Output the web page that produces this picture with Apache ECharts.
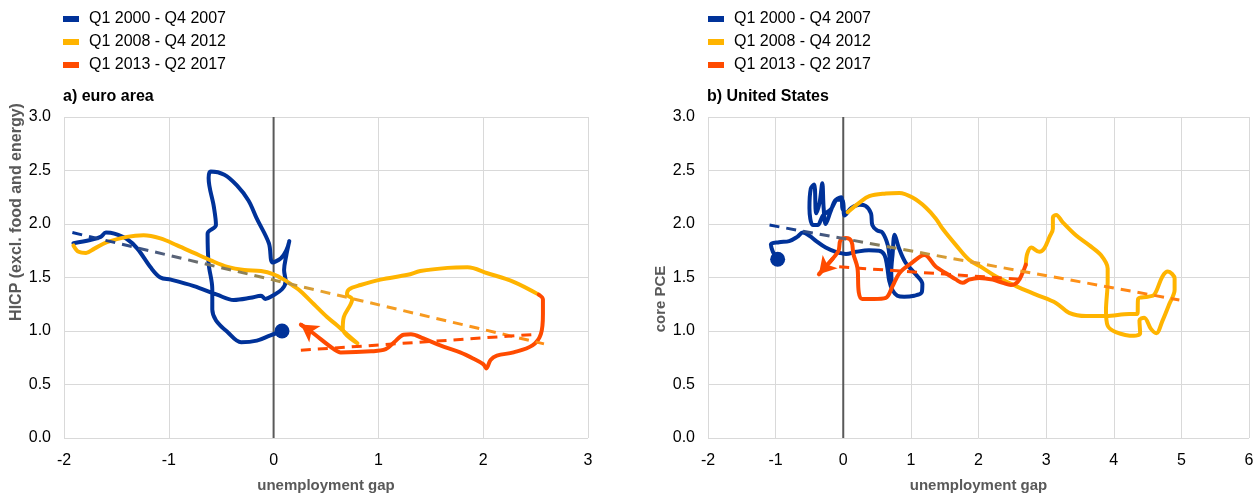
<!DOCTYPE html>
<html>
<head>
<meta charset="utf-8">
<script src="https://cdn.jsdelivr.net/npm/echarts@6/dist/echarts.min.js"></script>
<style>
html, body { margin: 0; padding: 0; background: #fff; }
#chart { width: 1259px; height: 498px; }
</style>
</head>
<body>
<div id="chart"></div>
<script>
// periods shown in both legends
var periods = ['Q1 2000 - Q4 2007', 'Q1 2008 - Q4 2012', 'Q1 2013 - Q2 2017'];

// a) euro area: [unemployment gap, HICP excl. food and energy]
var eaPre = [
    [0.08, 1.00], [-0.03, 0.96], [-0.16, 0.91], [-0.31, 0.895], [-0.44, 0.99], [-0.55, 1.10],
    [-0.585, 1.20], [-0.585, 1.39], [-0.62, 1.63], [-0.63, 1.91], [-0.55, 1.99], [-0.57, 2.16],
    [-0.62, 2.43], [-0.60, 2.49], [-0.47, 2.46], [-0.35, 2.36], [-0.24, 2.22], [-0.16, 2.05],
    [-0.045, 1.82], [-0.01, 1.64], [0.07, 1.68], [0.12, 1.75], [0.15, 1.84], [0.12, 1.70],
    [0.10, 1.57], [0.115, 1.465], [0.08, 1.39], [-0.01, 1.33], [-0.08, 1.30], [-0.12, 1.33],
    [-0.22, 1.31], [-0.38, 1.29], [-0.54, 1.34], [-0.76, 1.42], [-0.98, 1.48], [-1.08, 1.50],
    [-1.17, 1.59], [-1.30, 1.77], [-1.40, 1.86], [-1.52, 1.91], [-1.60, 1.92], [-1.65, 1.88],
    [-1.75, 1.85], [-1.91, 1.82]
];
var eaCrisis = [
    [-1.91, 1.80], [-1.86, 1.74], [-1.79, 1.73], [-1.71, 1.77], [-1.59, 1.83], [-1.40, 1.88],
    [-1.24, 1.895], [-1.08, 1.865], [-0.92, 1.80], [-0.76, 1.73], [-0.60, 1.66], [-0.44, 1.60],
    [-0.28, 1.57], [-0.12, 1.56], [0.0, 1.53], [0.10, 1.48], [0.19, 1.42], [0.26, 1.37],
    [0.385, 1.25], [0.51, 1.13], [0.61, 1.05], [0.70, 0.97], [0.80, 0.885], [0.66, 1.02],
    [0.67, 1.13], [0.735, 1.25], [0.75, 1.30], [0.70, 1.34], [0.72, 1.39], [0.83, 1.43],
    [1.02, 1.48], [1.28, 1.525], [1.40, 1.56], [1.66, 1.59], [1.85, 1.595], [2.04, 1.54],
    [2.29, 1.46], [2.53, 1.34]
];
var eaPost = [
    [2.53, 1.34], [2.57, 1.295], [2.57, 1.16], [2.55, 0.97], [2.47, 0.865], [2.29, 0.80],
    [2.13, 0.77], [2.07, 0.73], [2.03, 0.65], [2.00, 0.69], [1.91, 0.74], [1.78, 0.80],
    [1.59, 0.865], [1.43, 0.93], [1.31, 0.97], [1.24, 0.965], [1.15, 0.895], [1.07, 0.83],
    [0.93, 0.81], [0.64, 0.80], [0.575, 0.83], [0.35, 1.00], [0.26, 1.06]
];
var eaTrendAll = [[-1.92, 1.92], [2.58, 0.88]];
var eaTrendPost = [[0.26, 0.82], [2.52, 0.97]];

// b) United States: [unemployment gap, core PCE]
var usPre = [
    [-0.97, 1.67], [-1.04, 1.74], [-1.07, 1.81], [-0.95, 1.83], [-0.80, 1.84], [-0.68, 1.88],
    [-0.60, 1.92], [-0.50, 1.89], [-0.40, 1.84], [-0.26, 1.78], [-0.11, 1.74], [0.04, 1.72],
    [0.19, 1.74], [0.38, 1.755], [0.53, 1.75], [0.61, 1.71], [0.65, 1.60], [0.68, 1.47],
    [0.73, 1.38], [0.80, 1.33], [0.90, 1.32], [1.05, 1.33], [1.16, 1.36], [1.17, 1.44],
    [1.07, 1.53], [0.92, 1.64], [0.82, 1.78], [0.76, 1.90], [0.73, 1.72], [0.71, 1.55],
    [0.72, 1.43], [0.71, 1.52], [0.69, 1.66], [0.66, 1.80], [0.58, 1.92], [0.50, 1.94],
    [0.43, 1.99], [0.41, 2.10], [0.33, 2.17], [0.24, 2.18], [0.12, 2.15], [0.02, 2.08],
    [-0.01, 2.22], [-0.10, 2.23], [-0.18, 2.13], [-0.26, 2.00], [-0.29, 2.15], [-0.31, 2.38],
    [-0.35, 2.20], [-0.40, 2.10], [-0.43, 2.37], [-0.48, 2.33], [-0.50, 2.15], [-0.45, 1.99],
    [-0.38, 1.99], [-0.30, 2.08], [-0.18, 2.14], [-0.10, 2.23], [-0.03, 2.25], [-0.01, 2.14],
    [0.04, 2.10]
];
var usCrisis = [
    [0.065, 2.11], [0.24, 2.20], [0.385, 2.26], [0.63, 2.285], [0.83, 2.29], [1.03, 2.245],
    [1.22, 2.155], [1.37, 2.05], [1.47, 1.955], [1.67, 1.80], [1.86, 1.665], [2.06, 1.59],
    [2.26, 1.51], [2.555, 1.42], [2.85, 1.34], [3.15, 1.26], [3.34, 1.17], [3.59, 1.14],
    [3.885, 1.14], [4.23, 1.16], [4.35, 1.16], [4.36, 1.30], [4.50, 1.32], [4.60, 1.34],
    [4.72, 1.51], [4.80, 1.555], [4.90, 1.49], [4.90, 1.385], [4.82, 1.25], [4.72, 1.095],
    [4.63, 0.98], [4.55, 1.02], [4.45, 1.125], [4.38, 1.10], [4.39, 0.98], [4.30, 0.955],
    [4.03, 0.99], [3.91, 1.05], [3.885, 1.19], [3.91, 1.46], [3.91, 1.585], [3.81, 1.71],
    [3.64, 1.80], [3.44, 1.895], [3.24, 2.02], [3.15, 2.085], [3.10, 2.06], [3.10, 1.955],
    [3.05, 1.88], [2.97, 1.77], [2.90, 1.74], [2.78, 1.78], [2.72, 1.72], [2.70, 1.62]
];
var usPost = [
    [2.70, 1.62], [2.65, 1.54], [2.58, 1.46], [2.48, 1.43], [2.36, 1.45], [2.21, 1.48],
    [2.01, 1.495], [1.86, 1.48], [1.765, 1.45], [1.67, 1.48], [1.52, 1.54], [1.37, 1.60],
    [1.20, 1.71], [1.00, 1.63], [0.83, 1.54], [0.73, 1.42], [0.63, 1.31], [0.45, 1.30],
    [0.28, 1.30], [0.23, 1.36], [0.21, 1.59], [0.15, 1.72], [0.12, 1.84], [0.04, 1.87],
    [-0.04, 1.85], [-0.07, 1.75], [-0.15, 1.68], [-0.36, 1.53]
];
var usTrendAll = [[-1.09, 1.99], [4.97, 1.29]];
var usTrendPost = [[-0.06, 1.60], [2.70, 1.48]];

var zeroLine = [[0, 0], [0, 3]];
var yTicks = { min: 0, max: 3, interval: 0.5 };
var eaXTicks = { min: -2, max: 3, interval: 1 };
var usXTicks = { min: -2, max: 6, interval: 1 };

var BLUE = '#003299', YELLOW = '#FFB400', ORANGE = '#FF4B00';
var FONT = '"Liberation Sans", Arial, sans-serif';

var myChart = echarts.init(document.getElementById('chart'));

function curve(name, data, color, idx) {
    return {
        name: name, type: 'line', xAxisIndex: idx, yAxisIndex: idx,
        data: data, smooth: 0.35, symbol: 'none', z: 3,
        lineStyle: { width: 4, color: color, cap: 'round', join: 'round' },
        itemStyle: { color: color }
    };
}
function withArrow(s) {
    var d = s.data;
    s.markLine = {
        silent: true, symbol: ['none', 'arrow'], symbolSize: [15, 17],
        lineStyle: { color: s.lineStyle.color, width: 4, type: 'solid' },
        label: { show: false },
        data: [[{ coord: d[d.length - 2] }, { coord: d[d.length - 1] }]]
    };
    return s;
}
function trend(data, color, idx) {
    return {
        type: 'line', xAxisIndex: idx, yAxisIndex: idx, data: data, symbol: 'none', z: 4,
        lineStyle: { width: 3, type: [10, 7], color: color }
    };
}
function dot(p, idx) {
    return {
        type: 'scatter', xAxisIndex: idx, yAxisIndex: idx, data: [p],
        symbolSize: 15, itemStyle: { color: BLUE, opacity: 1 }, z: 5
    };
}
function zero(idx) {
    return {
        type: 'line', xAxisIndex: idx, yAxisIndex: idx, data: zeroLine, symbol: 'none', z: 2,
        lineStyle: { width: 2, color: '#595959' }
    };
}
function grad(stops) {
    return new echarts.graphic.LinearGradient(0, 0, 1, 0, stops);
}

function xAxis(ticks, idx) {
    return {
        type: 'value', gridIndex: idx, min: ticks.min, max: ticks.max, interval: ticks.interval,
        name: 'unemployment gap', nameLocation: 'middle', nameGap: 40,
        nameTextStyle: { fontSize: 15, fontWeight: 'bold', color: '#595959', fontFamily: FONT },
        axisLine: { show: false }, axisTick: { show: false },
        axisLabel: { fontSize: 16, color: '#000', margin: 15, fontFamily: FONT },
        splitLine: { show: true, lineStyle: { color: '#d9d9d9', width: 1 } }
    };
}
function yAxis(idx) {
    return {
        type: 'value', gridIndex: idx, min: yTicks.min, max: yTicks.max, interval: yTicks.interval,
        axisLine: { show: false }, axisTick: { show: false },
        axisLabel: {
            fontSize: 16, color: '#000', margin: 13, fontFamily: FONT,
            formatter: function (v) { return v.toFixed(1) }
        },
        splitLine: { show: true, lineStyle: { color: '#d9d9d9', width: 1 } }
    };
}
function legend(left) {
    return {
        data: periods, left: left, top: 11, orient: 'vertical', padding: 0,
        icon: 'rect', itemWidth: 16, itemHeight: 6, itemGap: 7, selectedMode: false,
        textStyle: { fontSize: 16, lineHeight: 16, color: '#000', fontFamily: FONT, padding: [0, 0, 0, 5] }
    };
}
function yName(text, x, y, size) {
    return {
        type: 'text', x: x, y: y, rotation: Math.PI / 2, silent: true,
        style: {
            text: text, fill: '#595959', align: 'center', verticalAlign: 'middle',
            font: 'bold ' + size + 'px "Liberation Sans", Arial, sans-serif'
        }
    };
}

var options = {
    animation: false,
    textStyle: { fontFamily: FONT },
    title: [
        { text: 'a) euro area', left: 63, top: 89, padding: 0,
          textStyle: { fontSize: 16, fontWeight: 'bold', color: '#000', fontFamily: FONT } },
        { text: 'b) United States', left: 707, top: 89, padding: 0,
          textStyle: { fontSize: 16, fontWeight: 'bold', color: '#000', fontFamily: FONT } }
    ],
    graphic: [
        yName('HICP (excl. food and energy)', 17, 212, 16),
        yName('core PCE', 661, 299, 15)
    ],
    legend: [legend(63), legend(708)],
    grid: [
        { left: 64, top: 117, width: 524, height: 325 },
        { left: 708, top: 117, width: 541, height: 325 }
    ],
    xAxis: [xAxis(eaXTicks, 0), xAxis(usXTicks, 1)],
    yAxis: [yAxis(0), yAxis(1)],
    series: [
        zero(0),
        curve(periods[0], eaPre, BLUE, 0),
        curve(periods[1], eaCrisis, YELLOW, 0),
        withArrow(curve(periods[2], eaPost, ORANGE, 0)),
        trend(eaTrendAll, grad([
            { offset: 0, color: '#003299' }, { offset: 0.22, color: '#5a6478' },
            { offset: 0.42, color: '#a08c4c' }, { offset: 0.55, color: '#f0a428' },
            { offset: 1, color: '#ff8c14' }
        ]), 0),
        trend(eaTrendPost, ORANGE, 0),
        dot(eaPre[0], 0),

        zero(1),
        curve(periods[0], usPre, BLUE, 1),
        curve(periods[1], usCrisis, YELLOW, 1),
        withArrow(curve(periods[2], usPost, ORANGE, 1)),
        trend(usTrendAll, grad([
            { offset: 0, color: '#003299' }, { offset: 0.18, color: '#5a6478' },
            { offset: 0.32, color: '#a08c4c' }, { offset: 0.45, color: '#e0a030' },
            { offset: 0.7, color: '#ff9418' }, { offset: 1, color: '#ff7a10' }
        ]), 1),
        trend(usTrendPost, ORANGE, 1),
        dot(usPre[0], 1)
    ]
};
myChart.setOption(options);
</script>
</body>
</html>
